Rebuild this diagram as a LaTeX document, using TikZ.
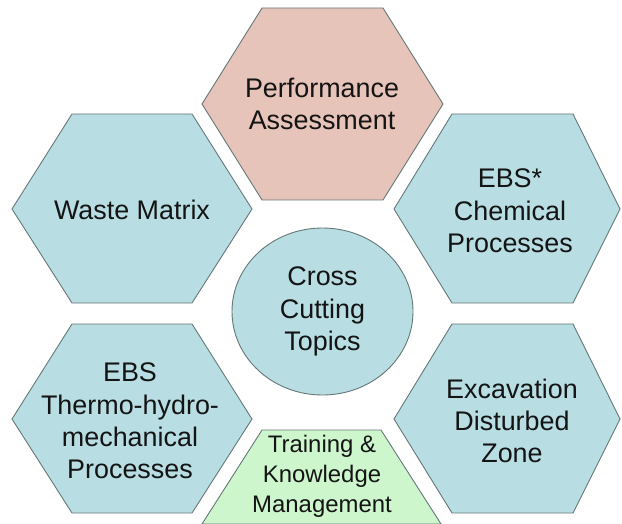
\documentclass[tikz,border=0pt]{standalone}
\usepackage{fontspec}
\setmainfont{Liberation Sans}
\usepackage{tikz}
\usetikzlibrary{shapes.geometric}

\definecolor{cellblue}{HTML}{B8DEE3}
\definecolor{cellpink}{HTML}{E6C4B9}
\definecolor{cellgreen}{HTML}{CDF6CD}
\definecolor{celledge}{HTML}{667777}
\definecolor{celltext}{HTML}{141414}

\begin{document}
\begin{tikzpicture}[x=1bp,y=-1bp,
    cell/.style={draw=celledge, line width=0.9bp, line join=miter},
    topic/.style={font=\fontsize{27}{32.5}\selectfont, align=center, text=celltext},
    small topic/.style={font=\fontsize{24}{30}\selectfont, align=center, text=celltext}]
    \useasboundingbox (0,0) rectangle (622,524);
    \clip (0,0) rectangle (622,524);
    % cells
    \filldraw[cell, fill=cellpink]  (202,104) -- (262,8)   -- (383,8)   -- (443,104) -- (383,200) -- (262,200) -- cycle;
    \filldraw[cell, fill=cellblue]  (12,209)  -- (72,114)  -- (192,114) -- (252,209) -- (192,303) -- (72,303)  -- cycle;
    \filldraw[cell, fill=cellblue]  (394,209) -- (452,114) -- (573,114) -- (620,209) -- (573,303) -- (452,303) -- cycle;
    \filldraw[cell, fill=cellblue]  (12,419)  -- (72,324)  -- (192,324) -- (252,419) -- (192,513) -- (72,513)  -- cycle;
    \filldraw[cell, fill=cellblue]  (394,419) -- (452,324) -- (573,324) -- (620,419) -- (573,513) -- (452,513) -- cycle;
    \filldraw[cell, fill=cellgreen] (202,524) -- (262,430) -- (381,430) -- (441,524) -- cycle;
    % labels
    \node[topic] (perf)  at (322,104) {Performance\\Assessment};
    \node[topic] (waste) at (132,210) {Waste Matrix};
    \node[topic] (chem)  at (510,211) {EBS*\\Chemical\\Processes};
    \node[topic] (thm)   at (130,421) {EBS\\Thermo-hydro-\\mechanical\\Processes};
    \node[topic] (edz)   at (512,421) {Excavation\\Disturbed\\Zone};
    \node[small topic] (train) at (322,476) {Training \&\\Knowledge\\Management};
    \node[topic, ellipse, cell, fill=cellblue, minimum width=181bp, minimum height=167bp, inner sep=0pt] (cross) at (322.5,311.5) {Cross\\Cutting\\Topics};
\end{tikzpicture}
\end{document}
